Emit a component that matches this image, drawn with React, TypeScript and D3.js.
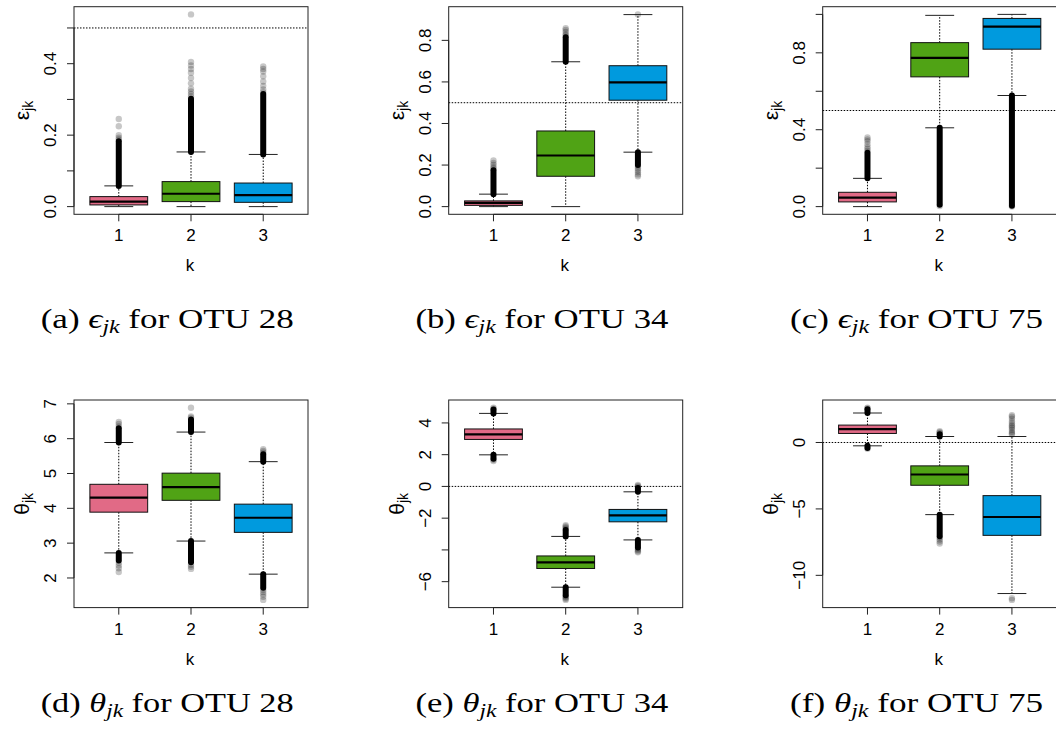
import React from "react";
import * as d3 from "d3";

// ---------- data ----------
const kLabels = ["1", "2", "3"];
const boxColors = ["#E16A86", "#50A315", "#009ADE"];

// five-number boxplot stats per k: [lower whisker, Q1, median, Q3, upper whisker]
const epsOtu28Stats = [
  [0.0, 0.0047, 0.014, 0.028, 0.058],
  [0.0, 0.014, 0.036, 0.07, 0.153],
  [0.0, 0.012, 0.032, 0.066, 0.146],
];
// dense runs of outliers: [k index, from, to]
const epsOtu28Dense = [
  [0, 0.058, 0.183],
  [1, 0.153, 0.302],
  [2, 0.146, 0.315],
];
// isolated outliers: [k index, value]
const epsOtu28Sparse = [
  [0, 0.188], [0, 0.193], [0, 0.2], [0, 0.225], [0, 0.245],
  [1, 0.308], [1, 0.315], [1, 0.322], [1, 0.33], [1, 0.345], [1, 0.36], [1, 0.375], [1, 0.385], [1, 0.395], [1, 0.405], [1, 0.538],
  [2, 0.32], [2, 0.328], [2, 0.338], [2, 0.35], [2, 0.365], [2, 0.378], [2, 0.385], [2, 0.392],
];
const epsOtu28Ticks = [0, 0.1, 0.2, 0.3, 0.4, 0.5];
const epsOtu28Labels = [0, 0.2, 0.4];

const epsOtu34Stats = [
  [0.0, 0.006, 0.018, 0.0275, 0.06],
  [0.0, 0.146, 0.246, 0.364, 0.697],
  [0.262, 0.512, 0.598, 0.678, 0.924],
];
const epsOtu34Dense = [
  [0, 0.06, 0.175],
  [1, 0.697, 0.815],
  [2, 0.262, 0.2],
];
const epsOtu34Sparse = [
  [0, 0.182], [0, 0.19], [0, 0.2], [0, 0.21], [0, 0.222],
  [1, 0.822], [1, 0.83], [1, 0.84], [1, 0.85], [1, 0.858],
  [2, 0.195], [2, 0.185], [2, 0.175], [2, 0.165], [2, 0.155], [2, 0.146], [2, 0.925],
];
const epsOtu34Ticks = [0, 0.2, 0.4, 0.6, 0.8];
const epsOtu34Labels = [0, 0.2, 0.4, 0.6, 0.8];

const epsOtu75Stats = [
  [0.0, 0.0245, 0.047, 0.0745, 0.147],
  [0.41, 0.675, 0.774, 0.853, 0.995],
  [0.578, 0.819, 0.936, 0.979, 1.0],
];
const epsOtu75Dense = [
  [0, 0.147, 0.28],
  [1, 0.41, 0.01],
  [2, 0.578, 0.005],
];
const epsOtu75Sparse = [
  [0, 0.29], [0, 0.3], [0, 0.31], [0, 0.325], [0, 0.34], [0, 0.35], [0, 0.36],
  [1, 0.003], [2, 0.0],
];
const epsOtu75Ticks = [0, 0.2, 0.4, 0.6, 0.8, 1.0];
const epsOtu75Labels = [0, 0.4, 0.8];

const thetaOtu28Stats = [
  [2.72, 3.89, 4.31, 4.69, 5.89],
  [3.06, 4.23, 4.61, 5.01, 6.19],
  [2.11, 3.31, 3.73, 4.12, 5.34],
];
const thetaOtu28Dense = [
  [0, 5.89, 6.3], [0, 2.72, 2.5],
  [1, 6.19, 6.55], [1, 3.06, 2.45],
  [2, 5.34, 5.55], [2, 2.11, 1.72],
];
const thetaOtu28Sparse = [
  [0, 6.35], [0, 6.42], [0, 6.48], [0, 2.44], [0, 2.36], [0, 2.28], [0, 2.17],
  [1, 6.6], [1, 6.64], [1, 6.89], [1, 2.38], [1, 2.32], [1, 2.26],
  [2, 5.6], [2, 5.65], [2, 5.7], [2, 1.66], [2, 1.6], [2, 1.53], [2, 1.46], [2, 1.37],
];
const thetaOtu28Ticks = [2, 3, 4, 5, 6, 7];
const thetaOtu28Labels = [2, 3, 4, 5, 6, 7];

const thetaOtu34Stats = [
  [1.99, 2.96, 3.28, 3.62, 4.6],
  [-6.35, -5.17, -4.78, -4.38, -3.15],
  [-3.37, -2.23, -1.83, -1.45, -0.34],
];
const thetaOtu34Dense = [
  [0, 4.6, 4.85], [0, 1.99, 1.75],
  [1, -3.15, -2.75], [1, -6.35, -6.85],
  [2, -0.34, -0.1], [2, -3.37, -3.85],
];
const thetaOtu34Sparse = [
  [0, 4.9], [0, 4.96], [0, 1.68], [0, 1.6],
  [1, -2.68], [1, -2.6], [1, -2.52], [1, -2.45], [1, -6.92], [1, -7.0], [1, -7.08], [1, -7.15],
  [2, -0.04], [2, 0.03], [2, 0.1], [2, -3.92], [2, -4.0], [2, -4.08], [2, -4.15],
];
const thetaOtu34Ticks = [-6, -4, -2, 0, 2, 4];
const thetaOtu34Labels = [-6, -2, 0, 2, 4];

const thetaOtu75Stats = [
  [-0.25, 0.68, 1.01, 1.31, 2.22],
  [-5.43, -3.22, -2.41, -1.76, 0.45],
  [-11.37, -6.99, -5.61, -4.0, 0.45],
];
const thetaOtu75Dense = [
  [0, 2.22, 2.5], [0, -0.25, -0.42],
  [1, 0.45, 0.62], [1, -5.43, -7.05],
];
const thetaOtu75Sparse = [
  [0, 2.56], [0, 2.62], [0, -0.47],
  [1, 0.7], [1, 0.78], [1, 0.85], [1, -7.15], [1, -7.3], [1, -7.45], [1, -7.6],
  [2, 0.6], [2, 0.7], [2, 0.8], [2, 0.95], [2, 1.1], [2, 1.2], [2, 1.3], [2, 1.45], [2, 1.6], [2, 1.8], [2, 1.95], [2, 2.05],
  [2, -11.72], [2, -11.85],
];
const thetaOtu75Ticks = [-10, -5, 0];
const thetaOtu75Labels = [-10, -5, 0];

const captionLetters = ["a", "b", "c", "d", "e", "f"];
const captionOtus = ["28", "34", "75", "28", "34", "75"];

// ---------- panel assembly ----------
const panels = [
  { stats: epsOtu28Stats, dense: epsOtu28Dense, sparse: epsOtu28Sparse, ticks: epsOtu28Ticks, labels: epsOtu28Labels, refLine: 0.5, sym: "ε", capSym: "ϵ", fmt: ".1f" },
  { stats: epsOtu34Stats, dense: epsOtu34Dense, sparse: epsOtu34Sparse, ticks: epsOtu34Ticks, labels: epsOtu34Labels, refLine: 0.5, sym: "ε", capSym: "ϵ", fmt: ".1f" },
  { stats: epsOtu75Stats, dense: epsOtu75Dense, sparse: epsOtu75Sparse, ticks: epsOtu75Ticks, labels: epsOtu75Labels, refLine: 0.5, sym: "ε", capSym: "ϵ", fmt: ".1f" },
  { stats: thetaOtu28Stats, dense: thetaOtu28Dense, sparse: thetaOtu28Sparse, ticks: thetaOtu28Ticks, labels: thetaOtu28Labels, refLine: null, sym: "θ", capSym: "θ", fmt: "d" },
  { stats: thetaOtu34Stats, dense: thetaOtu34Dense, sparse: thetaOtu34Sparse, ticks: thetaOtu34Ticks, labels: thetaOtu34Labels, refLine: 0, sym: "θ", capSym: "θ", fmt: "d" },
  { stats: thetaOtu75Stats, dense: thetaOtu75Dense, sparse: thetaOtu75Sparse, ticks: thetaOtu75Ticks, labels: thetaOtu75Labels, refLine: 0, sym: "θ", capSym: "θ", fmt: "d" },
];

const W = 1056;
const H = 731;
const colLeft = [74, 448.7, 822.7];
const rowTop = [6.7, 400];
const plotW = 234;
const plotH = 207.6;
const captionBase = [328, 712];
const SANS = "Liberation Sans, Arial, sans-serif";
const SERIF = "Liberation Serif, Times New Roman, serif";
const DOT = "1.5,1.5";

function Panel({ p, idx }: { p: any; idx: number }) {
  const col = idx % 3;
  const row = Math.floor(idx / 3);
  const left = colLeft[col];
  const top = rowTop[row];
  const bottom = top + plotH;
  const right = left + plotW;

  const allVals: number[] = [];
  p.stats.forEach((s: number[]) => s.forEach((v) => allVals.push(v)));
  p.dense.forEach((d: number[]) => { allVals.push(d[1]); allVals.push(d[2]); });
  p.sparse.forEach((d: number[]) => allVals.push(d[1]));
  const [mn, mx] = d3.extent(allVals) as [number, number];
  const ext = (mx - mn) * 0.04;

  const x = d3.scaleLinear().domain([0.5 - 0.12, 3.5 + 0.12]).range([left, right]);
  const y = d3.scaleLinear().domain([mn - ext, mx + ext]).range([bottom, top]);
  const f = d3.format(p.fmt);
  const boxHalf = x(1.4) - x(1);
  const capHalf = x(1.2) - x(1);

  const clipId = `clip${idx}`;
  const capX = 40.7 + col * 374.7;

  return (
    <g>
      <defs>
        <clipPath id={clipId}>
          <rect x={left} y={top} width={plotW} height={plotH} />
        </clipPath>
      </defs>
      {p.refLine !== null && (
        <line x1={left} x2={right} y1={y(p.refLine)} y2={y(p.refLine)} stroke="#000" strokeWidth={1} strokeDasharray={DOT} />
      )}
      {p.stats.map((s: number[], k: number) => {
        const cx = x(k + 1);
        return (
          <g key={k}>
            <line x1={cx} x2={cx} y1={y(s[3])} y2={y(s[4])} stroke="#000" strokeWidth={1} strokeDasharray={DOT} />
            <line x1={cx} x2={cx} y1={y(s[1])} y2={y(s[0])} stroke="#000" strokeWidth={1} strokeDasharray={DOT} />
            <line x1={cx - capHalf} x2={cx + capHalf} y1={y(s[4])} y2={y(s[4])} stroke="#222" strokeWidth={1} />
            <line x1={cx - capHalf} x2={cx + capHalf} y1={y(s[0])} y2={y(s[0])} stroke="#222" strokeWidth={1} />
            <rect x={cx - boxHalf} y={y(s[3])} width={boxHalf * 2} height={y(s[1]) - y(s[3])} fill={boxColors[k]} stroke="#111" strokeWidth={1} />
            <line x1={cx - boxHalf} x2={cx + boxHalf} y1={y(s[2])} y2={y(s[2])} stroke="#000" strokeWidth={2.2} />
          </g>
        );
      })}
      <g clipPath={`url(#${clipId})`}>
        {p.dense.map((d: number[], i: number) => (
          <line key={`d${i}`} x1={x(d[0] + 1)} x2={x(d[0] + 1)} y1={y(d[1])} y2={y(d[2])} stroke="#000" strokeWidth={6} strokeLinecap="round" />
        ))}
        {p.sparse.map((d: number[], i: number) => (
          <circle key={`s${i}`} cx={x(d[0] + 1)} cy={y(d[1])} r={3.2} fill="#000" fillOpacity={0.22} />
        ))}
      </g>
      <rect x={left} y={top} width={plotW} height={plotH} fill="none" stroke="#222" strokeWidth={1} />
      <line x1={left} x2={left} y1={y(p.ticks[0])} y2={y(p.ticks[p.ticks.length - 1])} stroke="#222" />
      {p.ticks.map((t: number) => (
        <line key={`t${t}`} x1={left - 7} x2={left} y1={y(t)} y2={y(t)} stroke="#222" />
      ))}
      {p.labels.map((t: number) => (
        <text key={`l${t}`} transform={`translate(${left - 18},${y(t)}) rotate(-90)`} textAnchor="middle" style={{ fontFamily: SANS, fontSize: "17px" }} fill="#000">
          {f(t)}
        </text>
      ))}
      <line x1={x(1)} x2={x(3)} y1={bottom} y2={bottom} stroke="#222" />
      {kLabels.map((k, i) => (
        <g key={k}>
          <line x1={x(i + 1)} x2={x(i + 1)} y1={bottom} y2={bottom + 7} stroke="#222" />
          <text x={x(i + 1)} y={bottom + 27} textAnchor="middle" style={{ fontFamily: SANS, fontSize: "17px" }} fill="#000">{k}</text>
        </g>
      ))}
      <text x={(left + right) / 2 - 1} y={bottom + 57} textAnchor="middle" style={{ fontFamily: SANS, fontSize: "17px" }} fill="#000">k</text>
      <text transform={`translate(${left - 45},${(top + bottom) / 2}) rotate(-90)`} textAnchor="middle" style={{ fontFamily: SANS, fontSize: "21px" }} fill="#000">
        {p.sym}
        <tspan style={{ fontSize: "14px" }} dy={4}>jk</tspan>
      </text>
      <text x={capX} y={captionBase[row]} style={{ fontFamily: SERIF, fontSize: "28px" }} fill="#000" textLength={253} lengthAdjust="spacingAndGlyphs">
        <tspan>({captionLetters[idx]}) </tspan>
        <tspan fontStyle="italic">{p.capSym}</tspan>
        <tspan fontStyle="italic" style={{ fontSize: "19px" }} dy={5}>jk</tspan>
        <tspan dy={-5}> for OTU {captionOtus[idx]}</tspan>
      </text>
    </g>
  );
}

export default function App() {
  return (
    <svg width={W} height={H} viewBox={`0 0 ${W} ${H}`} style={{ position: "absolute", left: 0, top: 0, background: "#fff" }}>
      <rect x={0} y={0} width={W} height={H} fill="#fff" />
      {panels.map((p, i) => (
        <Panel key={i} p={p} idx={i} />
      ))}
    </svg>
  );
}
